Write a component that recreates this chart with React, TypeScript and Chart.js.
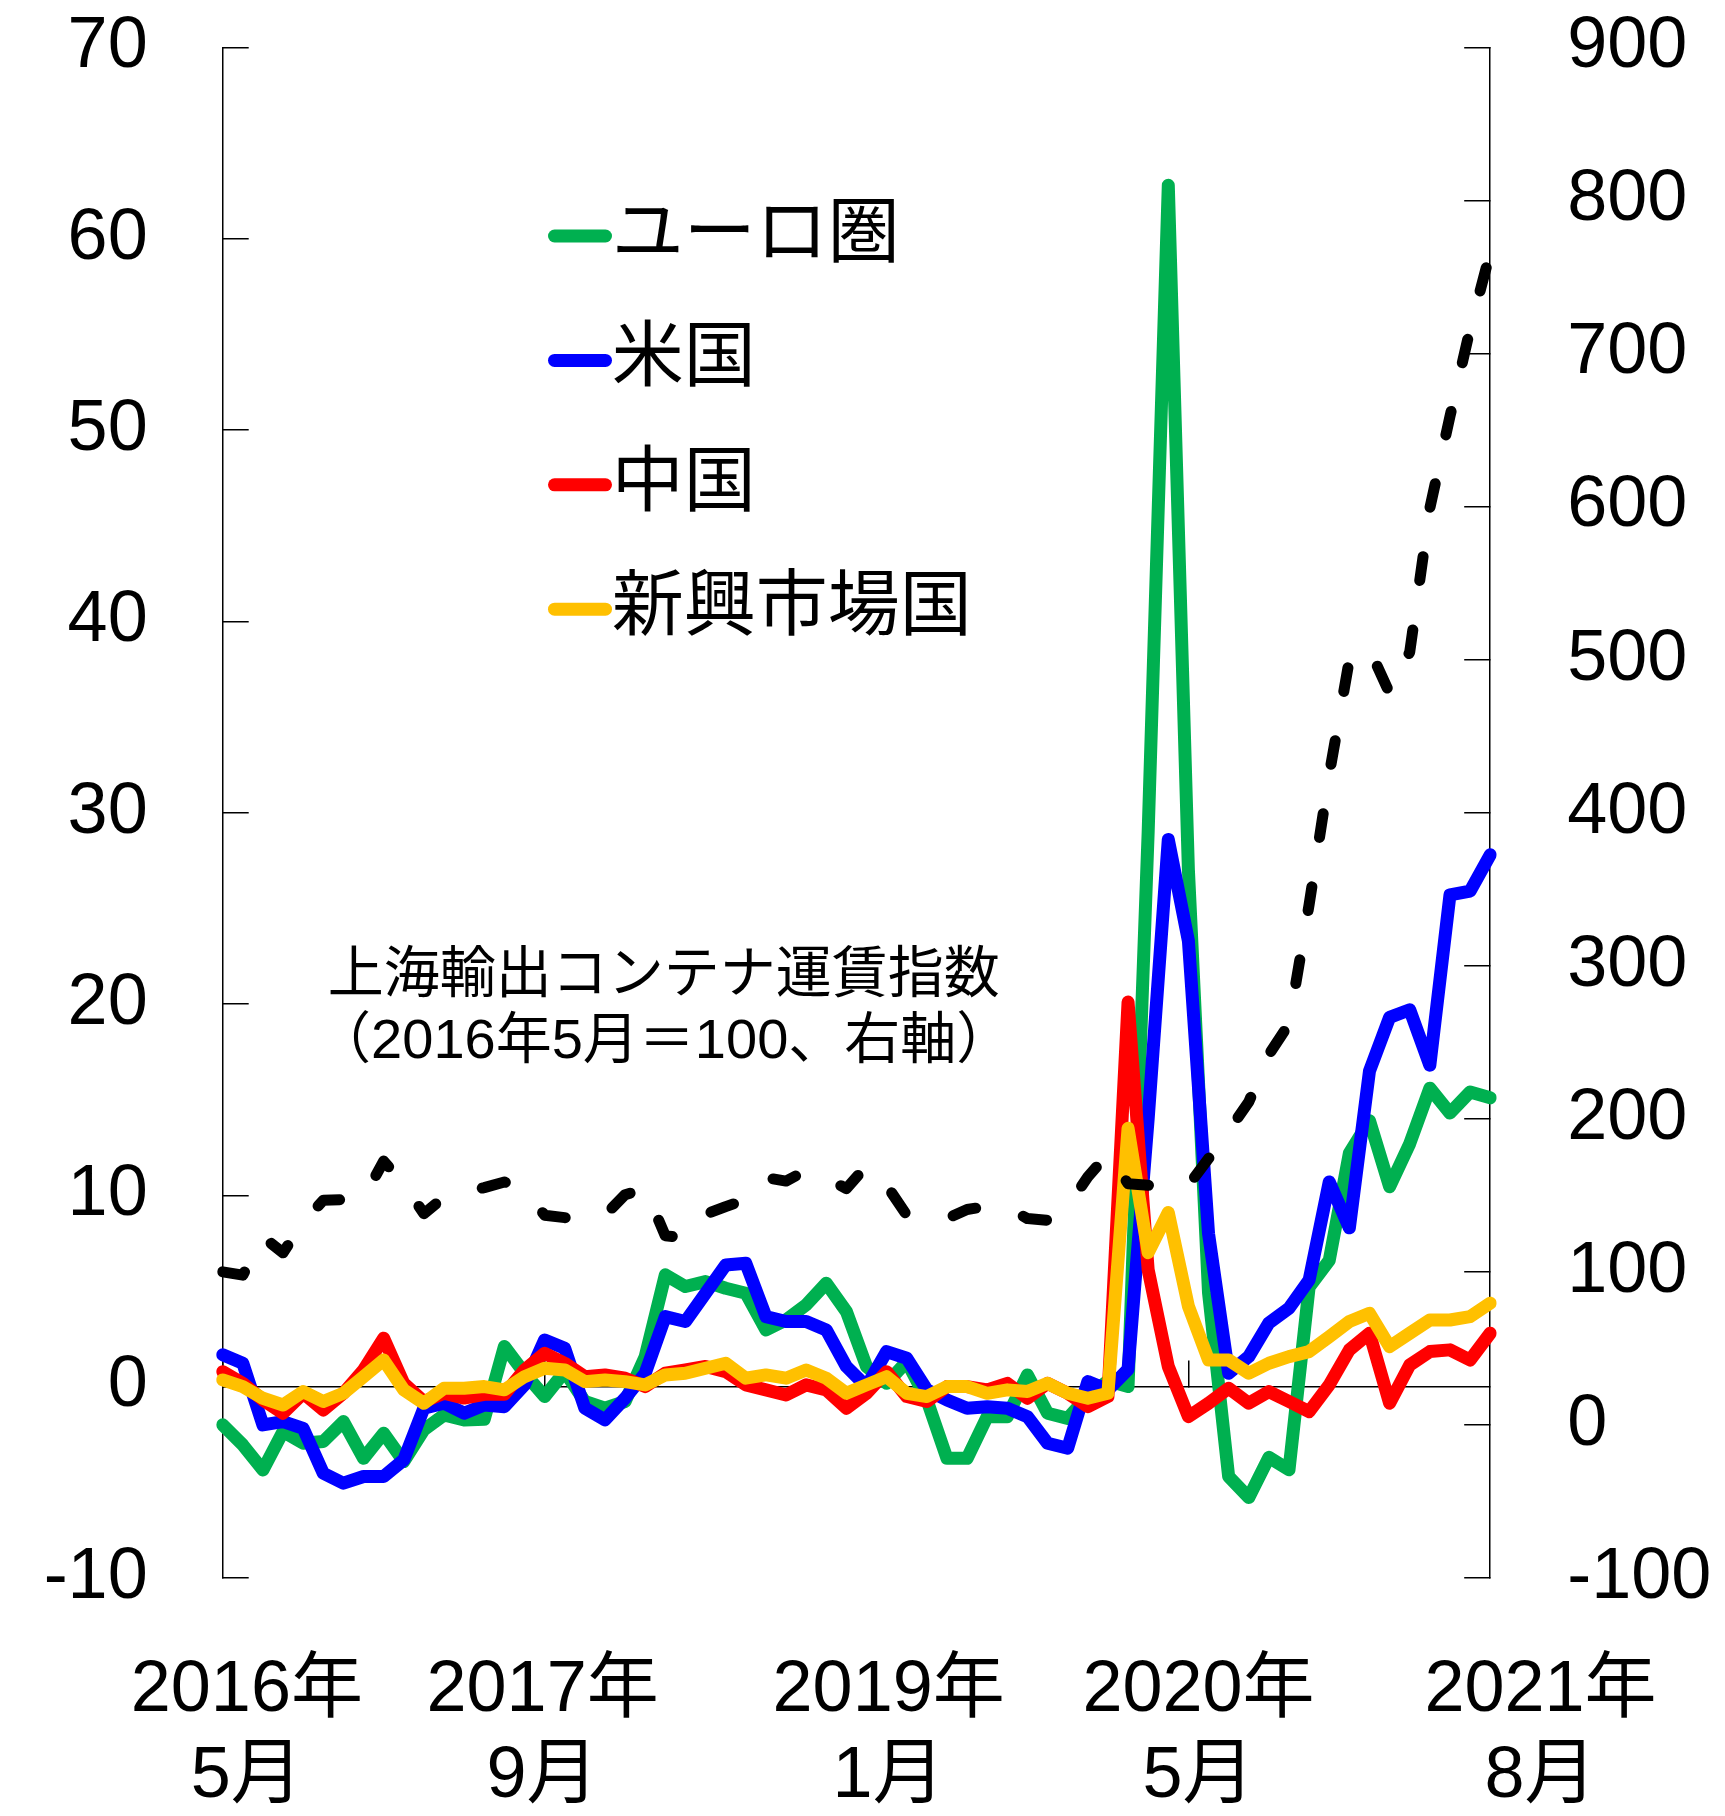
import React, { useEffect, useRef } from 'react';
import { Chart, registerables } from 'chart.js';

Chart.register(...registerables);

const FONT = "'Liberation Sans', 'Noto Sans CJK JP', sans-serif";

// Monthly categories: 2016年5月 .. 2021年8月 (64 months)
const months: string[] = [];
for (let k = 0; k < 64; k++) {
  const m = 4 + k;
  months.push(`${2016 + Math.floor(m / 12)}年${(m % 12) + 1}月`);
}

// Bottom axis labels and where they sit (in month-index units)
const xTickLabels: string[][] = [
  ['2016年', '5月'],
  ['2017年', '9月'],
  ['2019年', '1月'],
  ['2020年', '5月'],
  ['2021年', '8月'],
];
const xTickAt: number[] = [1.2, 15.9, 33.1, 48.5, 65.5];

// Left axis series (%)
const euroArea: number[] = [
  -2.0, -3.05, -4.36, -2.35, -2.96, -2.87, -1.83, -3.75, -2.44, -3.92,
  -2.26, -1.48, -1.74, -1.71, 2.1, 0.7, -0.52, 0.78, -0.78, -1.13,
  -0.78, 1.57, 5.84, 5.23, 5.49, 5.14, 4.88, 2.96, 3.48, 4.27,
  5.4, 3.92, 1.05, 0.17, 1.31, -0.7, -3.75, -3.75, -1.57, -1.57,
  0.61, -1.39, -1.66, -0.5, 0.3, 0.0, 29, 62.8, 27, 4.9,
  -4.7, -5.8, -3.7, -4.35, 5.2, 6.6, 12.2, 13.9, 10.45, 12.7,
  15.6, 14.3, 15.4, 15.1,
];
const usa: number[] = [
  1.66, 1.22, -2.0, -1.83, -2.18, -4.53, -5.05, -4.7, -4.7, -3.83,
  -1.13, -0.87, -1.39, -0.96, -1.05, 0.09, 2.44, 2.0, -1.13, -1.74,
  -0.61, 0.7, 3.66, 3.4, 4.88, 6.36, 6.45, 3.66, 3.4, 3.4,
  2.96, 1.05, 0.0, 1.83, 1.48, -0.17, -0.7, -1.13, -1.05, -1.13,
  -1.57, -2.96, -3.22, 0.26, -0.17, 0.9, 14, 28.6, 23.3, 8.0,
  0.7, 1.57, 3.33, 4.1, 5.57, 10.7, 8.3, 16.5, 19.3, 19.7,
  16.8, 25.7, 25.9, 27.8,
];
const china: number[] = [
  0.78, 0.17, -0.7, -1.39, -0.35, -1.22, -0.35, 0.87, 2.53, 0.17,
  -0.78, -0.35, -0.6, -0.4, -0.4, 0.87, 1.74, 1.22, 0.52, 0.61,
  0.44, 0.0, 0.7, 0.87, 1.05, 0.78, 0.09, -0.17, -0.44, 0.09,
  -0.17, -1.13, -0.35, 0.78, -0.52, -0.78, 0.0, 0.0, -0.17, 0.17,
  -0.61, 0.17, -0.35, -1.05, -0.52, 20.1, 6.1, 1.05, -1.57, -0.87,
  -0.09, -0.87, -0.26, -0.78, -1.31, 0.09, 1.92, 2.79, -0.87, 1.13,
  1.83, 1.92, 1.39, 2.79,
];
const emerging: number[] = [
  0.35, 0.0, -0.61, -0.96, -0.26, -0.78, -0.35, 0.52, 1.39, -0.17,
  -0.87, -0.09, -0.09, 0.0, -0.17, 0.52, 0.96, 0.87, 0.26, 0.35,
  0.26, 0.09, 0.61, 0.7, 0.96, 1.22, 0.44, 0.61, 0.44, 0.87,
  0.44, -0.35, 0.09, 0.52, -0.35, -0.52, 0.0, 0.0, -0.35, -0.17,
  -0.26, 0.17, -0.35, -0.61, -0.35, 13.5, 7.0, 9.1, 4.2, 1.39,
  1.39, 0.7, 1.22, 1.57, 1.83, 2.61, 3.4, 3.83, 2.09, 2.79,
  3.48, 3.48, 3.66, 4.36,
];
// Right axis series (2016年5月 = 100)
const freightIndex: number[] = [
  100, 97.8, 122.8, 112.4, 132.6, 146.7, 147.2, 148, 172.4, 157.4,
  138, 148.7, 152, 155, 158.7, 154, 137, 135.4, 134.8, 137,
  150.4, 154.3, 123.5, 122.2, 137.6, 142.6, 147.2, 161.5, 159.3, 166.3,
  161.5, 154.3, 169.3, 156.5, 137, 135.9, 134.8, 140.7, 142.8, 142,
  134.8, 133.7, 142.8, 162, 177, 157.6, 156.5, 156.5, 156.5, 174,
  192, 211, 242, 262, 340, 425, 500, 507, 478, 505,
  599, 659, 716, 766,
];

const seriesLabels = ['ユーロ圏', '米国', '中国', '新興市場国'];
const freightLabel = '上海輸出コンテナ運賃指数';
const annotationLines = ['上海輸出コンテナ運賃指数', '（2016年5月＝100、右軸）'];

const GREEN = '#00B050';
const BLUE = '#0000FF';
const RED = '#FF0000';
const YELLOW = '#FFC000';
const BLACK = '#000000';
const seriesColors = [GREEN, BLUE, RED, YELLOW];

const overlayPlugin = {
  id: 'overlayText',
  afterDatasetsDraw(chart: any) {
    const { ctx, chartArea: a } = chart;
    ctx.save();
    ctx.font = `72px ${FONT}`;
    ctx.textBaseline = 'middle';
    ctx.textAlign = 'left';
    seriesLabels.forEach((t, k) => {
      const y = a.top + 188.5 + k * 124.4;
      ctx.strokeStyle = seriesColors[k];
      ctx.lineWidth = 13;
      ctx.lineCap = 'round';
      ctx.beginPath();
      ctx.moveTo(a.left + 331.8, y);
      ctx.lineTo(a.left + 382.8, y);
      ctx.stroke();
      ctx.fillStyle = BLACK;
      ctx.fillText(t, a.left + 389, y);
    });
    ctx.font = `56px ${FONT}`;
    ctx.textAlign = 'center';
    ctx.fillStyle = BLACK;
    ctx.fillText(annotationLines[0], a.left + 441, a.top + 929);
    ctx.fillText(annotationLines[1], a.left + 441, a.top + 995);
    ctx.restore();
  },
};

function lineStyle(color: string, width: number) {
  return {
    borderColor: color,
    backgroundColor: color,
    borderWidth: width,
    pointRadius: 0,
    pointHoverRadius: 0,
    tension: 0,
    fill: false,
    borderCapStyle: 'round' as const,
    borderJoinStyle: 'round' as const,
  };
}

export default function App() {
  const ref = useRef<HTMLCanvasElement>(null);

  useEffect(() => {
    const canvas = ref.current;
    if (!canvas) return;
    Chart.defaults.font.family = FONT;
    const tickFont = { size: 72, family: FONT, lineHeight: 1.2 };
    const fixY = (w: number) => (s: any) => {
      s.width = w;
      s.paddingTop = 0;
      s.paddingBottom = 0;
    };
    const chart = new Chart(canvas, {
      type: 'line',
      data: {
        labels: months,
        datasets: [
          { label: seriesLabels[0], data: euroArea, yAxisID: 'y', xAxisID: 'x', order: 4, ...lineStyle(GREEN, 13) },
          { label: seriesLabels[1], data: usa, yAxisID: 'y', xAxisID: 'x', order: 3, ...lineStyle(BLUE, 13) },
          { label: seriesLabels[2], data: china, yAxisID: 'y', xAxisID: 'x', order: 2, ...lineStyle(RED, 13) },
          { label: seriesLabels[3], data: emerging, yAxisID: 'y', xAxisID: 'x', order: 1, ...lineStyle(YELLOW, 13) },
          {
            label: freightLabel,
            data: freightIndex,
            yAxisID: 'y1',
            xAxisID: 'x',
            order: 0,
            ...lineStyle(BLACK, 11),
            borderDash: [24, 50],
          },
        ],
      },
      options: {
        responsive: false,
        animation: false,
        devicePixelRatio: 1,
        layout: { padding: { top: 47.5, left: 0, right: 0, bottom: 0 } },
        plugins: { legend: { display: false }, tooltip: { enabled: false } },
        scales: {
          x: { type: 'category', display: false, offset: false },
          x0: {
            type: 'category',
            position: { y: 0 } as any,
            offset: false,
            grid: {
              drawOnChartArea: false,
              drawTicks: true,
              tickLength: -27,
              lineWidth: 1.5,
              color: (c: any) => (c.index % 16 === 0 ? BLACK : 'rgba(0,0,0,0)'),
              tickColor: (c: any) => (c.index % 16 === 0 ? BLACK : 'rgba(0,0,0,0)'),
            },
            ticks: { display: false },
            border: { display: true, color: BLACK, width: 1.5 },
          },
          xl: {
            type: 'linear',
            position: 'bottom',
            min: 0,
            max: 63,
            bounds: 'data',
            grid: { display: false, drawTicks: false },
            border: { display: false },
            afterBuildTicks: (s: any) => {
              s.ticks = xTickAt.map((v) => ({ value: v }));
            },
            afterFit: (s: any) => {
              s.height = 238.1;
              s.paddingLeft = 0;
              s.paddingRight = 0;
            },
            ticks: {
              autoSkip: false,
              maxRotation: 0,
              minRotation: 0,
              padding: 70,
              color: BLACK,
              font: tickFont,
              callback: (_v: any, i: number) => xTickLabels[i],
            },
          },
          y: {
            type: 'linear',
            position: 'left',
            min: -10,
            max: 70,
            afterFit: fixY(222.7),
            ticks: { stepSize: 10, color: BLACK, padding: 101, font: tickFont },
            grid: { drawOnChartArea: false, drawTicks: true, tickLength: -26, color: BLACK, lineWidth: 1.5 },
            border: { display: true, color: BLACK, width: 1.5 },
          },
          y1: {
            type: 'linear',
            position: 'right',
            min: -100,
            max: 900,
            afterFit: fixY(234.8),
            ticks: { stepSize: 100, color: BLACK, padding: 103, font: tickFont },
            grid: { drawOnChartArea: false, drawTicks: true, tickLength: -26, color: BLACK, lineWidth: 1.5 },
            border: { display: true, color: BLACK, width: 1.5 },
          },
        },
      } as any,
      plugins: [overlayPlugin],
    });
    return () => chart.destroy();
  }, []);

  return (
    <div
      style={{
        position: 'absolute',
        left: 0,
        top: 0,
        width: 1725,
        height: 1816,
        background: '#fff',
        overflow: 'hidden',
      }}
    >
      <canvas ref={ref} width={1725} height={1816} style={{ display: 'block' }} />
    </div>
  );
}
